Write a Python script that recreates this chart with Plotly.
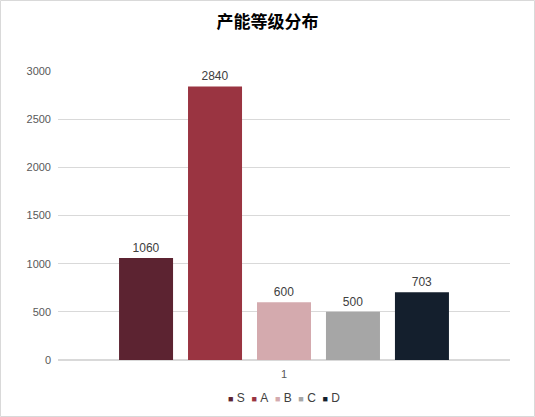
import plotly.graph_objects as go

# data
grades = ['S', 'A', 'B', 'C', 'D']
values = [1060, 2840, 600, 500, 703]
colors = ['#5C2331', '#9A3441', '#D4AAAE', '#A6A6A6', '#141F2D']
category = ['1']

fig = go.Figure()
for g, v, c in zip(grades, values, colors):
    fig.add_trace(go.Bar(
        x=category, y=[v], name=g, showlegend=False,
        marker_color=c, marker_line_width=0,
        text=[v], textposition='outside', cliponaxis=False,
        textfont=dict(size=12, color='#404040'),
    ))

W, H, L, T, B = 535, 417, 58, 71, 57
pw = W - L - 25
ph = H - T - B

# compact Excel-style legend: small coloured squares followed by the grade
legend_text = '&nbsp;&nbsp;'.join(
    f"<span style='color:{c};font-size:9px'>■</span>&nbsp;{g}" for g, c in zip(grades, colors)
)

fig.update_layout(
    width=W, height=H,
    barmode='group', bargap=0.237, bargroupgap=0.217,
    title=dict(text='<b>产能等级分布</b>', x=0.5, xanchor='center', y=0.947, yanchor='middle',
               font=dict(size=17, color='#000000', family='Noto Sans CJK SC')),
    font=dict(family='Liberation Sans, Arial', size=11, color='#595959'),
    plot_bgcolor='white', paper_bgcolor='white',
    margin=dict(l=L, r=25, t=T, b=B),
    annotations=[dict(text=legend_text, xref='paper', yref='paper', x=0.5, xanchor='center',
                      y=-38 / ph, yanchor='middle', showarrow=False,
                      font=dict(size=12, color='#404040'))],
    shapes=[dict(type='rect', xref='paper', yref='paper',
                 x0=-(L - 0.5) / pw, x1=(W - L - 0.5) / pw,
                 y0=-(B - 0.5) / ph, y1=(H - B - 0.5) / ph,
                 line=dict(color='#D9D9D9', width=1))],
)
fig.update_yaxes(range=[0, 3000], dtick=500, showgrid=True, gridcolor='#D9D9D9',
                 zeroline=True, zerolinecolor='#D9D9D9', ticks='', showline=False,
                 ticklabelstandoff=6, tickfont=dict(size=11, color='#595959'))
fig.update_xaxes(type='category', showgrid=False, showline=False, ticks='',
                 ticklabelstandoff=6, tickfont=dict(size=11, color='#595959'))

fig.write_html('out.html', config={'displayModeBar': False},
               post_script="document.body.style.margin='0';")
